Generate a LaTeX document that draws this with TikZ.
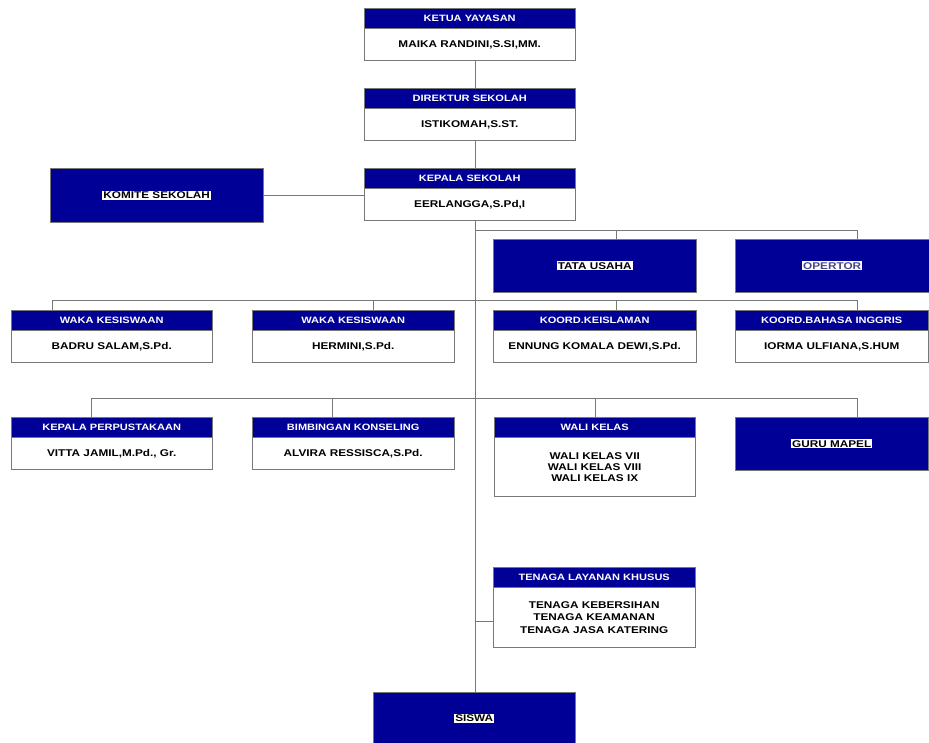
\documentclass[tikz,border=0pt]{standalone}
\usepackage{fontspec}
\setmainfont{Liberation Sans}[FakeStretch=1.2]
\usetikzlibrary{positioning, calc}
\definecolor{orgblue}{RGB}{0,0,150}
\definecolor{linegray}{RGB}{120,120,120}
\newcommand{\tagbox}[2][black]{{\setlength{\fboxsep}{1pt}\colorbox{white}{\textcolor{#1}{#2}}}}

\begin{document}
\begin{tikzpicture}[
    x=1pt, y=-1pt,
    every node/.style={font=\fontsize{9.8}{11}\selectfont\bfseries, inner sep=0pt, align=center},
    head/.style={fill=orgblue, draw=linegray, text=white, font=\fontsize{9.2}{11}\selectfont\bfseries,
        minimum width=#1, minimum height=20pt, anchor=north west},
    head/.default=203pt,
    body/.style={draw=linegray, fill=white, text=black, minimum width=#1, minimum height=32pt},
    body/.default=203pt,
    panel/.style={fill=orgblue, draw=linegray, minimum width=#1, minimum height=53pt, anchor=north west},
    panel/.default=203pt,
    link/.style={draw=linegray, line width=1pt}
]
    \useasboundingbox (0,0) rectangle (929,742);

    % Top Chain
    \node[head=211pt] (ketuaH) at (364,8) {KETUA YAYASAN};
    \node[body=211pt, below=0pt of ketuaH] (ketuaB) {MAIKA RANDINI,S.SI,MM.};
    \node[head=211pt] (direkturH) at (364,88) {DIREKTUR SEKOLAH};
    \node[body=211pt, below=0pt of direkturH] (direkturB) {ISTIKOMAH,S.ST.};
    \node[head=211pt] (kepalaH) at (364,168) {KEPALA SEKOLAH};
    \node[body=211pt, below=0pt of kepalaH] (kepalaB) {EERLANGGA,S.Pd,I};

    % Komite
    \node[panel=213pt, minimum height=54pt] (komite) at (50,168) {\tagbox{KOMITE SEKOLAH}};

    % Staff Row
    \node[panel] (tata) at (493,239) {\tagbox{TATA USAHA}};
    \node[panel=194pt] (operator) at (735,239) {\tagbox[orgblue!45!gray]{OPERTOR}};

    % Row 2
    \node[head=201pt] (waka1H) at (11,310) {WAKA KESISWAAN};
    \node[body=201pt, below=0pt of waka1H] (waka1B) {BADRU SALAM,S.Pd.};
    \node[head=202pt] (waka2H) at (252,310) {WAKA KESISWAAN};
    \node[body=202pt, below=0pt of waka2H] (waka2B) {HERMINI,S.Pd.};
    \node[head] (islamH) at (493,310) {KOORD.KEISLAMAN};
    \node[body, below=0pt of islamH] (islamB) {ENNUNG KOMALA DEWI,S.Pd.};
    \node[head=193pt] (inggrisH) at (735,310) {KOORD.BAHASA INGGRIS};
    \node[body=193pt, below=0pt of inggrisH] (inggrisB) {IORMA ULFIANA,S.HUM};

    % Row 3
    \node[head=201pt] (perpusH) at (11,417) {KEPALA PERPUSTAKAAN};
    \node[body=201pt, below=0pt of perpusH] (perpusB) {VITTA JAMIL,M.Pd., Gr.};
    \node[head=202pt] (bkH) at (252,417) {BIMBINGAN KONSELING};
    \node[body=202pt, below=0pt of bkH] (bkB) {ALVIRA RESSISCA,S.Pd.};
    \node[head=201pt] (waliH) at (494,417) {WALI KELAS};
    \node[body=201pt, minimum height=59pt, below=0pt of waliH] (waliB) {WALI KELAS VII\\WALI KELAS VIII\\WALI KELAS IX};
    \node[panel=193pt] (guru) at (735,417) {\tagbox{GURU MAPEL}};

    % Tenaga and Siswa
    \node[head=202pt] (tenagaH) at (493,567) {TENAGA LAYANAN KHUSUS};
    \node[body=202pt, minimum height=60pt, below=0pt of tenagaH] (tenagaB) {TENAGA KEBERSIHAN\\[1.5pt]TENAGA KEAMANAN\\[1.5pt]TENAGA JASA KATERING};
    \node[panel=202pt, minimum height=52pt] (siswa) at (373,692) {\tagbox{SISWA}};

    % Junctions
    \coordinate (trunkTop) at (475,60);
    \coordinate (j1) at (475,230);
    \coordinate (j4) at (475,621);

    % Connectors
    \draw[link] (trunkTop) -- (trunkTop |- direkturH.north);
    \draw[link] (trunkTop |- direkturB.south) -- (trunkTop |- kepalaH.north);
    \draw[link] (trunkTop |- kepalaB.south) -- (trunkTop |- siswa.north);
    \draw[link] (komite.east) -- (komite.east -| kepalaB.west);
    \draw[link] (j1) -- (857,230);
    \draw[link] (52,300) -- (857,300);
    \draw[link] (91,398) -- (857,398);
    \draw[link] (j4) -- (j4 -| tenagaB.west);
    \foreach \xx/\nn in {616/tata, 857/operator}
        \draw[link] (\xx,230) -- (\xx,230 |- \nn.north);
    \foreach \xx/\nn in {52/waka1H, 373/waka2H, 616/islamH, 857/inggrisH}
        \draw[link] (\xx,300) -- (\xx,300 |- \nn.north);
    \foreach \xx/\nn in {91/perpusH, 332/bkH, 595/waliH, 857/guru}
        \draw[link] (\xx,398) -- (\xx,398 |- \nn.north);
\end{tikzpicture}
\end{document}
